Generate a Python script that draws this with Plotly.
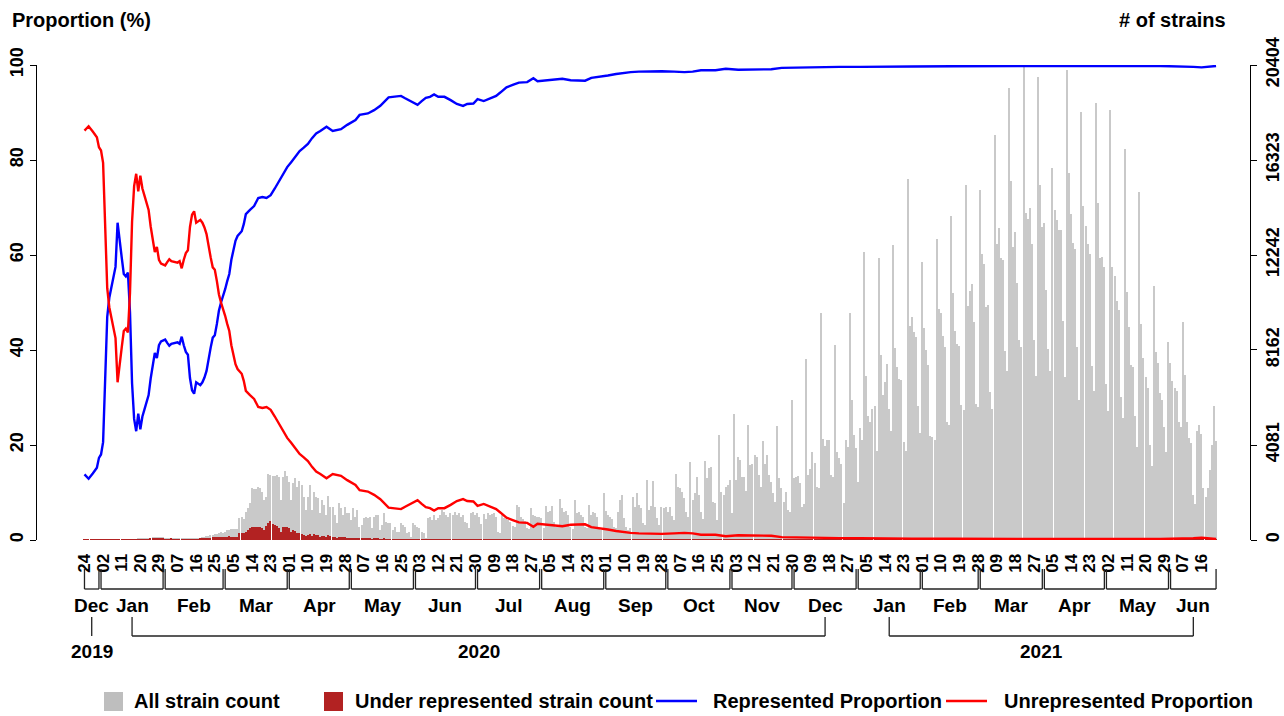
import pandas as pd
import plotly.graph_objects as go

# ---------------- data ----------------
first_day = "2019-12-24"

# daily "All strain count", weeks Mon..Sun (first chunk starts Tue 2019-12-24)
all_weeks = [
    [1, 2, 1, 3, 2, 4],
    [6, 4, 3, 2, 3, 2, 1],
    [2, 1, 3, 5, 8, 6, 9],
    [12, 15, 18, 22, 28, 35, 45],
    [55, 65, 75, 85, 95, 105, 115],
    [125, 135, 120, 110, 125, 95, 85],
    [95, 105, 90, 80, 70, 60, 50],
    [55, 65, 75, 65, 55, 45, 50],
    [70, 90, 120, 150, 170, 180, 200],
    [210, 240, 270, 300, 330, 320, 350],
    [420, 450, 460, 470, 460, 480, 940],
    [1000, 900, 1220, 1360, 1600, 2220, 2180],
    [2178, 2263, 2220, 2077, 1719, 1862, 2836],
    [2793, 2750, 2750, 2793, 2693, 1719, 2721],
    [2979, 2750, 2507, 1719, 2435, 2650, 2263],
    [2535, 2364, 1862, 1289, 1833, 2364, 1289],
    [2077, 1862, 1790, 1146, 1719, 1504, 1074],
    [1891, 1432, 1432, 1074, 716, 1575, 1361],
    [1074, 1432, 1146, 1146, 859, 1361, 1003],
    [1289, 573, 645, 931, 1003, 931, 1003],
    [502, 1003, 1074, 1074, 430, 645, 1146],
    [788, 716, 716, 430, 573, 358, 358],
    [716, 645, 573, 287, 358, 143, 716],
    [645, 573, 502, 358, 287, 72, 931],
    [1003, 859, 1074, 859, 931, 1074, 1289],
    [1217, 1074, 1003, 1146, 1074, 1217, 1074],
    [1146, 1003, 1074, 788, 716, 502, 1146],
    [1217, 1074, 1146, 1002, 687, 1117, 900],
    [1146, 1074, 1117, 1146, 1000, 358, 286],
    [1146, 931, 888, 859, 788, 601, 550],
    [1504, 1432, 974, 916, 830, 501, 480],
    [1360, 1074, 1031, 1002, 974, 931, 501],
    [1461, 1217, 1260, 1461, 788, 573, 644],
    [1747, 1360, 1217, 1260, 1074, 573, 458],
    [1718, 1174, 1217, 1074, 1002, 573, 501],
    [1504, 1074, 1217, 1146, 1002, 501, 430],
    [2005, 1260, 1074, 1002, 888, 544, 501],
    [1217, 1718, 1933, 931, 573, 430, 501],
    [1862, 1432, 2005, 1504, 1360, 716, 644],
    [2578, 1289, 1461, 2549, 1432, 931, 644],
    [1432, 1360, 1432, 1217, 1432, 1031, 859],
    [2835, 2291, 2220, 2076, 1790, 1217, 1002],
    [3365, 1718, 2005, 2721, 1933, 1217, 888],
    [3408, 2649, 3079, 3150, 1647, 1575, 859],
    [4511, 2076, 1933, 2291, 2363, 2578, 1146],
    [5413, 2578, 3580, 3437, 2721, 2721, 2119],
    [4940, 3222, 3265, 3651, 3580, 2792, 2291],
    [4267, 3265, 3651, 2792, 2506, 2005, 1647],
    [4897, 2649, 2220, 1647, 2076, 1289, 1217],
    [6014, 2649, 2692, 2749, 2434, 1432, 1547],
    [7761, 2792, 3036, 3795, 3300, 2291, 2220],
    [9766, 4325, 4038, 4296, 4296, 2792, 2692],
    [8377, 3795, 3508, 3265, 1600, 4296, 4010],
    [9738, 6014, 4511, 3938, 2506, 4797, 4296],
    [12387, 7045, 5327, 5084, 5613, 5757, 3838],
    [12100, 7948, 6229, 6802, 7561, 5613, 4697],
    [12673, 8234, 7418, 6902, 6874, 4224, 3838],
    [15500, 9193, 9566, 8950, 8706, 5757, 4611],
    [11957, 9093, 8162, 7518, 4468, 4411, 4296],
    [12914, 9918, 9732, 8776, 8277, 5066, 4923],
    [13913, 10631, 8990, 8419, 8348, 5779, 5594],
    [15269, 10060, 10702, 10988, 9347, 5851, 5708],
    [15055, 12272, 11844, 9989, 10103, 6350, 5637],
    [17409, 12700, 13385, 12129, 12015, 8134, 7278],
    [19407, 15412, 12586, 13243, 11059, 8591, 8277],
    [20404, 14056, 13771, 14242, 12700, 8591, 7064],
    [19907, 15269, 13442, 13628, 10731, 8205, 7278],
    [15982, 14156, 13728, 13300, 13300, 9418, 6992],
    [20192, 15768, 14013, 12772, 12486, 8277, 5993],
    [18380, 14341, 13485, 12700, 12272, 7492, 6380],
    [18773, 14489, 12118, 12148, 11735, 6686, 5539],
    [18467, 11735, 11353, 10282, 9899, 6151, 5233],
    [16784, 10664, 9134, 7528, 7451, 5309, 4009],
    [14948, 9287, 7834, 6992, 6533, 4085, 3167],
    [10894, 8063, 7604, 6304, 5998, 4850, 3779],
    [8522, 7604, 6839, 6533, 6380, 5080, 4850],
    [9364, 7069, 5080, 4391, 4162, 1943, 1561],
    [4697, 4927, 4544, 2249, 1867, 2249, 3014],
    [4085, 5768, 4238],
]

# daily "Under represented strain count", same layout
under_weeks = [
    [1, 2, 1, 2, 2, 3],
    [5, 3, 2, 2, 2, 2, 1],
    [1, 1, 2, 2, 3, 2, 3],
    [4, 5, 6, 8, 10, 12, 15],
    [20, 25, 30, 35, 40, 45, 50],
    [55, 60, 50, 45, 55, 40, 35],
    [40, 45, 40, 35, 30, 25, 22],
    [25, 30, 35, 30, 28, 22, 25],
    [40, 55, 70, 80, 90, 95, 105],
    [110, 120, 130, 140, 150, 140, 150],
    [150, 155, 150, 145, 140, 140, 286],
    [300, 280, 358, 420, 502, 560, 573],
    [545, 560, 573, 500, 430, 600, 745],
    [800, 688, 645, 602, 502, 358, 545],
    [573, 545, 500, 350, 430, 400, 286],
    [300, 260, 229, 170, 229, 250, 160],
    [250, 229, 200, 143, 180, 170, 120],
    [200, 160, 150, 120, 90, 140, 120],
    [110, 130, 100, 95, 80, 90, 70],
    [80, 45, 50, 60, 55, 50, 50],
    [35, 50, 50, 45, 25, 35, 45],
    [35, 30, 30, 20, 25, 18, 18],
    [28, 25, 22, 12, 15, 8, 25],
    [22, 20, 18, 12, 10, 4, 28],
    [30, 25, 30, 24, 26, 28, 32],
    [30, 26, 24, 28, 25, 28, 24],
    [26, 22, 24, 18, 16, 12, 24],
    [24, 20, 22, 18, 14, 20, 16],
    [20, 18, 19, 18, 16, 7, 6],
    [18, 14, 13, 12, 11, 9, 8],
    [20, 18, 13, 12, 11, 7, 6],
    [16, 13, 12, 12, 11, 10, 6],
    [15, 13, 13, 15, 8, 6, 7],
    [17, 13, 12, 12, 10, 6, 5],
    [16, 11, 11, 10, 9, 5, 5],
    [13, 9, 10, 10, 9, 5, 4],
    [16, 10, 9, 8, 7, 5, 4],
    [9, 12, 14, 7, 5, 4, 4],
    [13, 10, 14, 10, 9, 5, 5],
    [17, 9, 10, 16, 9, 6, 5],
    [9, 9, 9, 8, 9, 7, 6],
    [17, 14, 13, 12, 11, 8, 6],
    [19, 10, 12, 15, 11, 7, 5],
    [18, 14, 16, 17, 9, 9, 5],
    [22, 11, 10, 12, 12, 13, 6],
    [25, 12, 17, 16, 13, 13, 10],
    [22, 15, 15, 16, 16, 12, 10],
    [18, 14, 16, 12, 11, 9, 7],
    [20, 11, 9, 7, 9, 6, 5],
    [24, 11, 11, 11, 10, 6, 6],
    [30, 11, 12, 15, 13, 9, 9],
    [36, 16, 15, 16, 16, 10, 10],
    [30, 14, 13, 12, 6, 15, 14],
    [33, 21, 16, 14, 9, 17, 15],
    [40, 23, 17, 16, 18, 18, 12],
    [37, 24, 19, 21, 23, 17, 14],
    [37, 24, 22, 20, 20, 12, 11],
    [43, 26, 27, 25, 24, 16, 13],
    [32, 24, 22, 20, 12, 12, 11],
    [33, 25, 25, 22, 21, 13, 12],
    [34, 26, 22, 21, 20, 14, 14],
    [36, 24, 25, 26, 22, 14, 13],
    [34, 28, 27, 23, 23, 14, 13],
    [38, 28, 29, 26, 26, 18, 16],
    [41, 32, 26, 28, 23, 18, 17],
    [42, 29, 28, 29, 26, 18, 14],
    [40, 31, 27, 27, 22, 16, 15],
    [32, 28, 27, 26, 26, 19, 14],
    [39, 31, 27, 25, 24, 16, 12],
    [35, 28, 26, 24, 24, 15, 12],
    [36, 28, 23, 23, 22, 13, 11],
    [35, 22, 22, 20, 19, 12, 10],
    [32, 20, 18, 15, 14, 10, 8],
    [30, 19, 16, 14, 13, 8, 6],
    [23, 17, 16, 13, 13, 10, 8],
    [19, 17, 15, 15, 14, 11, 11],
    [22, 17, 13, 11, 11, 5, 4],
    [13, 14, 13, 7, 6, 7, 9],
    [11, 15, 11],
]

line_dates = [
    "2019-12-24", "2019-12-25", "2019-12-26", "2019-12-28", "2019-12-30", "2019-12-31",
    "2020-01-01", "2020-01-02", "2020-01-03", "2020-01-04", "2020-01-05", "2020-01-06",
    "2020-01-07", "2020-01-08", "2020-01-09", "2020-01-10", "2020-01-11", "2020-01-12",
    "2020-01-13", "2020-01-14", "2020-01-15", "2020-01-16", "2020-01-17", "2020-01-18",
    "2020-01-19", "2020-01-20", "2020-01-21", "2020-01-22", "2020-01-23", "2020-01-24",
    "2020-01-25", "2020-01-26", "2020-01-27", "2020-01-28", "2020-01-29", "2020-01-30",
    "2020-01-31", "2020-02-01", "2020-02-02", "2020-02-03", "2020-02-04", "2020-02-05",
    "2020-02-06", "2020-02-07", "2020-02-08", "2020-02-09", "2020-02-10", "2020-02-11",
    "2020-02-12", "2020-02-13", "2020-02-14", "2020-02-15", "2020-02-16", "2020-02-17",
    "2020-02-18", "2020-02-19", "2020-02-20", "2020-02-21", "2020-02-22", "2020-02-23",
    "2020-02-24", "2020-02-25", "2020-02-26", "2020-02-27", "2020-02-28", "2020-02-29",
    "2020-03-01", "2020-03-02", "2020-03-03", "2020-03-04", "2020-03-05", "2020-03-06",
    "2020-03-07", "2020-03-09", "2020-03-10", "2020-03-11", "2020-03-13", "2020-03-15",
    "2020-03-17", "2020-03-19", "2020-03-21", "2020-03-23", "2020-03-25", "2020-03-27",
    "2020-03-29", "2020-03-31", "2020-04-02", "2020-04-04", "2020-04-06", "2020-04-08",
    "2020-04-10", "2020-04-12", "2020-04-14", "2020-04-16", "2020-04-19", "2020-04-22",
    "2020-04-24", "2020-04-26", "2020-04-29", "2020-05-03", "2020-05-05", "2020-05-09",
    "2020-05-12", "2020-05-15", "2020-05-19", "2020-05-22", "2020-05-25", "2020-05-27",
    "2020-05-30", "2020-06-02", "2020-06-04", "2020-06-06", "2020-06-08", "2020-06-10",
    "2020-06-12", "2020-06-15", "2020-06-18", "2020-06-21", "2020-06-24", "2020-06-26",
    "2020-06-29", "2020-07-01", "2020-07-04", "2020-07-08", "2020-07-10", "2020-07-12",
    "2020-07-15", "2020-07-18", "2020-07-21", "2020-07-25", "2020-07-28", "2020-07-30",
    "2020-08-04", "2020-08-08", "2020-08-11", "2020-08-15", "2020-08-19", "2020-08-22",
    "2020-08-25", "2020-08-29", "2020-09-02", "2020-09-06", "2020-09-09", "2020-09-13",
    "2020-09-17", "2020-09-22", "2020-09-28", "2020-10-04", "2020-10-09", "2020-10-13",
    "2020-10-17", "2020-10-24", "2020-10-29", "2020-11-04", "2020-11-09", "2020-11-14",
    "2020-11-20", "2020-11-25", "2020-12-03", "2020-12-13", "2020-12-23", "2021-01-02",
    "2021-01-12", "2021-01-27", "2021-02-16", "2021-03-08", "2021-03-28", "2021-04-17",
    "2021-05-07", "2021-05-27", "2021-06-06", "2021-06-12", "2021-06-16", "2021-06-19",
    "2021-06-23",
]

represented = [
    13.8, 13.3, 12.9, 14.0, 15.2, 17.3,
    18.0, 20.6, 33.0, 47.0, 51.0, 53.0,
    55.0, 57.5, 66.8, 62.5, 59.5, 56.0,
    55.5, 56.3, 48.0, 33.0, 25.5, 22.9,
    26.6, 23.3, 26.0, 27.5, 28.9, 30.5,
    34.0, 37.0, 39.4, 38.3, 41.0, 41.8,
    42.0, 42.2, 41.5, 40.9, 41.3, 41.4,
    41.6, 41.6, 41.3, 42.8, 41.0, 39.6,
    39.0, 34.1, 31.5, 30.8, 33.2, 32.8,
    32.6, 33.2, 34.2, 35.6, 38.3, 40.5,
    42.6, 43.1, 45.5, 48.3, 50.0, 51.2,
    52.8, 54.5, 56.0, 59.0, 61.3, 63.0,
    64.0, 65.0, 66.5, 68.6, 69.5, 70.3,
    72.0, 72.2, 72.0, 72.6, 74.0, 75.5,
    77.2, 78.5, 79.6, 80.8, 81.9, 82.6,
    83.4, 84.6, 85.6, 86.1, 87.0, 86.1,
    86.3, 86.5, 87.4, 88.4, 89.5, 89.8,
    90.5, 91.4, 93.2, 93.3, 93.5, 93.0,
    92.3, 91.6, 92.4, 93.1, 93.3, 93.8,
    93.3, 93.3, 92.6, 91.8, 91.4, 91.8,
    91.9, 92.8, 92.4, 93.1, 93.5, 94.2,
    95.3, 95.8, 96.3, 96.4, 97.2, 96.6,
    96.8, 96.9, 97.1, 96.8, 96.8, 96.7,
    97.3, 97.5, 97.8, 98.1, 98.3, 98.5,
    98.6, 98.7, 98.7, 98.6, 98.5, 98.6,
    98.9, 98.9, 99.2, 99.0, 99.0, 99.0,
    99.1, 99.4, 99.5, 99.6, 99.6, 99.6,
    99.7, 99.7, 99.75, 99.8, 99.8, 99.8,
    99.8, 99.8, 99.75, 99.6, 99.5, 99.6,
    99.8,
]

unrepresented = [
    86.2, 86.7, 87.1, 86.0, 84.8, 82.7,
    82.0, 79.4, 67.0, 53.0, 49.0, 47.0,
    45.0, 42.5, 33.2, 37.5, 40.5, 44.0,
    44.5, 43.7, 52.0, 67.0, 74.5, 77.1,
    73.4, 76.7, 74.0, 72.5, 71.1, 69.5,
    66.0, 63.0, 60.6, 61.7, 59.0, 58.2,
    58.0, 57.8, 58.5, 59.1, 58.7, 58.6,
    58.4, 58.4, 58.7, 57.2, 59.0, 60.4,
    61.0, 65.9, 68.5, 69.2, 66.8, 67.2,
    67.4, 66.8, 65.8, 64.4, 61.7, 59.5,
    57.4, 56.9, 54.5, 51.7, 50.0, 48.8,
    47.2, 45.5, 44.0, 41.0, 38.7, 37.0,
    36.0, 35.0, 33.5, 31.4, 30.5, 29.7,
    28.0, 27.8, 28.0, 27.4, 26.0, 24.5,
    22.8, 21.5, 20.4, 19.2, 18.1, 17.4,
    16.6, 15.4, 14.4, 13.9, 13.0, 13.9,
    13.7, 13.5, 12.6, 11.6, 10.5, 10.2,
    9.5, 8.6, 6.8, 6.7, 6.5, 7.0,
    7.7, 8.4, 7.6, 6.9, 6.7, 6.2,
    6.7, 6.7, 7.4, 8.2, 8.6, 8.2,
    8.1, 7.2, 7.6, 6.9, 6.5, 5.8,
    4.7, 4.2, 3.7, 3.6, 2.8, 3.4,
    3.2, 3.1, 2.9, 3.2, 3.2, 3.3,
    2.7, 2.5, 2.2, 1.9, 1.7, 1.5,
    1.4, 1.3, 1.3, 1.4, 1.5, 1.4,
    1.1, 1.1, 0.8, 1.0, 1.0, 1.0,
    0.9, 0.6, 0.5, 0.4, 0.4, 0.4,
    0.3, 0.3, 0.25, 0.2, 0.2, 0.2,
    0.2, 0.2, 0.25, 0.4, 0.5, 0.4,
    0.2,
]

prop_ticks = [0, 20, 40, 60, 80, 100]
count_ticks = [0, 4081, 8162, 12242, 16323, 20404]

legend_labels = ["All strain count", "Under represented strain count",
                 "Represented Proportion", "Unrepresented Proportion"]

# ---------------- figure ----------------
all_counts = [v for w in all_weeks for v in w]
under_counts = [v for w in under_weeks for v in w]
dates = pd.date_range(first_day, periods=len(all_counts), freq="D")
last_day = dates[-1]

DAY_MS = 86400000
FONT = "Liberation Sans, Arial, sans-serif"
GRAY = "#BEBEBE"
BARGRAY = "#C9C9C9"
DARKRED = "#B22222"
BLUE = "#0000FF"
RED = "#FF0000"

fig = go.Figure()
fig.add_trace(go.Bar(x=dates, y=all_counts, width=0.66 * DAY_MS,
                     marker=dict(color=BARGRAY, line=dict(width=0)),
                     yaxis="y", showlegend=False, name=legend_labels[0]))
fig.add_trace(go.Bar(x=dates, y=under_counts, width=0.66 * DAY_MS,
                     marker=dict(color=DARKRED, line=dict(width=0)),
                     yaxis="y", showlegend=False, name=legend_labels[1]))
fig.add_trace(go.Scatter(x=line_dates, y=represented, mode="lines",
                         line=dict(color=BLUE, width=2.4), yaxis="y2",
                         cliponaxis=False, showlegend=False, name=legend_labels[2]))
fig.add_trace(go.Scatter(x=line_dates, y=unrepresented, mode="lines",
                         line=dict(color=RED, width=2.4), yaxis="y2",
                         cliponaxis=False, showlegend=False, name=legend_labels[3]))

# day tick labels every 9 days
tick_dates = pd.date_range(first_day, last_day, freq="9D")

# plot frame in pixels
W, H = 1284, 716
L, R, T, B = 37, 1250, 65, 540
PW, PH = R - L, B - T


def px_x(px):
    return (px - L) / PW


def px_y(py):
    return (B - py) / PH


start_ts = pd.Timestamp(first_day)
x_lo = start_ts - pd.Timedelta(days=22.95)
x_hi = last_day + pd.Timedelta(days=16.4)

tickfont = dict(family=FONT, size=18, color="black", weight="bold")

fig.update_layout(
    width=W, height=H,
    margin=dict(l=L, r=W - R, t=T, b=H - B, pad=0, autoexpand=False),
    paper_bgcolor="white", plot_bgcolor="white",
    barmode="overlay", bargap=0,
    font=dict(family=FONT, color="black"),
    xaxis=dict(type="date", range=[x_lo, x_hi], domain=[0, 1], automargin=False,
               showgrid=False, zeroline=False,
               showline=False, tickmode="array", tickvals=tick_dates,
               ticktext=[d.strftime("%d") for d in tick_dates], tickangle=-90,
               ticks="outside", ticklen=6, tickcolor="rgba(0,0,0,0)",
               tickfont=dict(family=FONT, size=17, color="black", weight="bold")),
    yaxis=dict(range=[0, 20404], side="right", automargin=False, tickmode="array",
               tickvals=count_ticks,
               ticktext=[str(v) for v in count_ticks], tickangle=-90,
               showgrid=False, zeroline=False, showline=True, linecolor="black",
               linewidth=1, ticks="outside", ticklen=6, tickcolor="black",
               tickfont=tickfont),
    yaxis2=dict(range=[0, 100], overlaying="y", side="left", automargin=False,
                tickmode="array",
                tickvals=prop_ticks, tickangle=-90, showgrid=False, zeroline=False,
                showline=True, linecolor="black", linewidth=1, ticks="outside",
                ticklen=6, tickcolor="black", tickfont=tickfont),
    showlegend=False,
)

annotations = []
shapes = []

# axis titles
annotations.append(dict(text="Proportion (%)", xref="paper", yref="paper",
                        x=px_x(10), y=px_y(20), xanchor="left", yanchor="middle",
                        showarrow=False, font=dict(family=FONT, size=20, weight="bold")))
annotations.append(dict(text="# of strains", xref="paper", yref="paper",
                        x=px_x(1117), y=px_y(20), xanchor="left", yanchor="middle",
                        showarrow=False, font=dict(family=FONT, size=20, weight="bold")))

# month brackets
line_style = dict(color="#222222", width=1.3)
mb_top, mb_bot, m_lab = px_y(569), px_y(589), px_y(605)
yb_top, yb_bot, y_lab = px_y(617), px_y(636), px_y(651)
months = pd.period_range(dates[0], last_day, freq="M")
month_centers = {}
for m in months:
    s = max(m.start_time, dates[0])
    e = min(m.end_time.normalize(), last_day)
    c = s + (e - s) / 2
    month_centers.setdefault(m.year, []).append(c)
    for xx in (s, e):
        shapes.append(dict(type="line", xref="x", yref="paper", x0=xx, x1=xx,
                           y0=mb_top, y1=mb_bot, line=line_style))
    shapes.append(dict(type="line", xref="x", yref="paper", x0=s, x1=e,
                       y0=mb_bot, y1=mb_bot, line=line_style))
    annotations.append(dict(text=m.strftime("%b"), xref="x", yref="paper", x=c, y=m_lab,
                            xanchor="center", yanchor="middle", showarrow=False,
                            font=dict(family=FONT, size=19, weight="bold")))

# year brackets
for yr, cs in month_centers.items():
    a, b = cs[0], cs[-1]
    for xx in ((a,) if a == b else (a, b)):
        shapes.append(dict(type="line", xref="x", yref="paper", x0=xx, x1=xx,
                           y0=yb_top, y1=yb_bot, line=line_style))
    if a != b:
        shapes.append(dict(type="line", xref="x", yref="paper", x0=a, x1=b,
                           y0=yb_bot, y1=yb_bot, line=line_style))
    annotations.append(dict(text=str(yr), xref="x", yref="paper", x=a + (b - a) / 2,
                            y=y_lab, xanchor="center", yanchor="middle", showarrow=False,
                            font=dict(family=FONT, size=19, weight="bold")))

# legend (drawn manually to match sizes)
leg_y = px_y(701)
leg_font = dict(family=FONT, size=20, weight="bold")
shapes.append(dict(type="rect", xref="paper", yref="paper", x0=px_x(104), x1=px_x(123),
                   y0=px_y(692), y1=px_y(711), fillcolor=GRAY, line=dict(width=0)))
annotations.append(dict(text=legend_labels[0], xref="paper", yref="paper", x=px_x(132),
                        y=leg_y, xanchor="left", yanchor="middle", showarrow=False, font=leg_font))
shapes.append(dict(type="rect", xref="paper", yref="paper", x0=px_x(324), x1=px_x(343),
                   y0=px_y(692), y1=px_y(711), fillcolor=DARKRED, line=dict(width=0)))
annotations.append(dict(text=legend_labels[1], xref="paper", yref="paper", x=px_x(353),
                        y=leg_y, xanchor="left", yanchor="middle", showarrow=False, font=leg_font))
shapes.append(dict(type="line", xref="paper", yref="paper", x0=px_x(656), x1=px_x(697),
                   y0=leg_y, y1=leg_y, line=dict(color=BLUE, width=2.4)))
annotations.append(dict(text=legend_labels[2], xref="paper", yref="paper", x=px_x(711),
                        y=leg_y, xanchor="left", yanchor="middle", showarrow=False, font=leg_font))
shapes.append(dict(type="line", xref="paper", yref="paper", x0=px_x(946), x1=px_x(987),
                   y0=leg_y, y1=leg_y, line=dict(color=RED, width=2.4)))
annotations.append(dict(text=legend_labels[3], xref="paper", yref="paper", x=px_x(1002),
                        y=leg_y, xanchor="left", yanchor="middle", showarrow=False, font=leg_font))

fig.update_layout(annotations=annotations, shapes=shapes)
fig.write_html("out.html")
